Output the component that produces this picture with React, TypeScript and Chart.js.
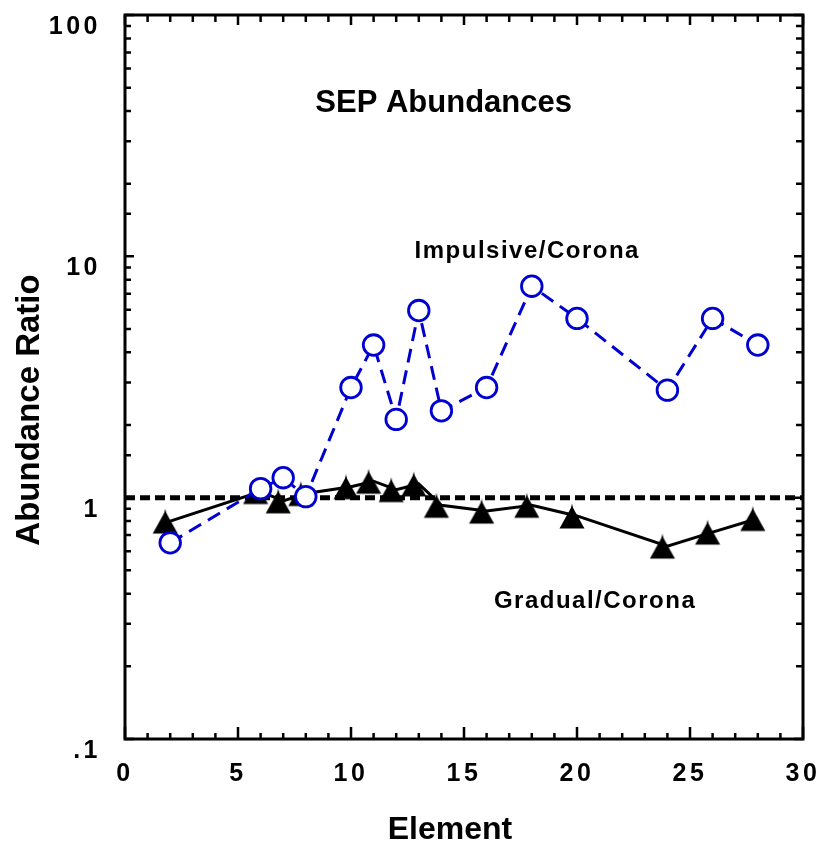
import React, { useEffect, useRef } from 'react';
import { Chart, registerables } from 'chart.js';

Chart.register(...registerables);

// ---- data ----
const impulsiveElement = [2, 6, 7, 8, 10, 11, 12, 13, 14, 16, 18, 20, 24, 26, 28];
const impulsiveRatio = [0.65, 1.09, 1.21, 1.01, 2.86, 4.29, 2.11, 5.96, 2.29, 2.86, 7.52, 5.53, 2.79, 5.53, 4.29];

const gradualElement = [2, 6, 7, 8, 10, 11, 12, 13, 14, 16, 18, 20, 24, 26, 28];
const gradualRatio = [0.8, 1.06, 0.97, 1.04, 1.11, 1.17, 1.08, 1.14, 0.93, 0.88, 0.93, 0.84, 0.63, 0.72, 0.82];

const unityElement = [0, 30];
const unityRatio = [1, 1];

const xMajorValues = [0, 5, 10, 15, 20, 25, 30];
const xMajorLabels = ['0', '5', '10', '15', '20', '25', '30'];
const yDecadeValues = [0.1, 1, 10, 100];
const yDecadeLabels = ['.1', '1', '10', '100'];

const chartTitle = 'SEP Abundances';
const impulsiveLabel = 'Impulsive/Corona';
const gradualLabel = 'Gradual/Corona';
const xTitle = 'Element';
const yTitle = 'Abundance Ratio';

const FONT = '"Liberation Sans", Arial, Helvetica, sans-serif';
const BLUE = '#0000d0';

function xLabel(v: number): string {
  const i = xMajorValues.findIndex((m) => Math.abs(m - v) < 1e-9);
  return i >= 0 ? xMajorLabels[i] : '';
}
function yLabel(v: number): string {
  const i = yDecadeValues.findIndex((d) => Math.abs(d - v) / d < 1e-6);
  return i >= 0 ? yDecadeLabels[i] : '';
}

function makeTriangle(): HTMLCanvasElement {
  const c = document.createElement('canvas');
  c.width = 40;
  c.height = 40;
  const g = c.getContext('2d')!;
  g.fillStyle = '#000';
  g.beginPath();
  g.moveTo(15, 10);
  g.lineTo(27.5, 32.5);
  g.lineTo(2.5, 32.5);
  g.closePath();
  g.fill();
  g.beginPath();
  g.moveTo(13.4, 15);
  g.lineTo(15, 7.5);
  g.lineTo(16.6, 15);
  g.closePath();
  g.fill();
  return c;
}

const framePlugin = {
  id: 'frameAndText',
  beforeDraw(chart: any) {
    chart.ctx.letterSpacing = '3.5px';
  },
  beforeDatasetsDraw(chart: any) {
    chart.ctx.letterSpacing = '0px';
  },
  afterDraw(chart: any) {
    const { ctx, chartArea: a, scales } = chart;
    const xs = scales.x;
    const ys = scales.y;
    ctx.save();
    ctx.letterSpacing = '0px';
    ctx.strokeStyle = '#000';
    ctx.lineWidth = 3;
    ctx.strokeRect(a.left, a.top, a.right - a.left, a.bottom - a.top);
    ctx.lineWidth = 2.5;
    ctx.beginPath();
    xs.ticks.forEach((t: any) => {
      const px = xs.getPixelForValue(t.value);
      const major = xLabel(t.value) !== '';
      const lb = major ? 12 : 6;
      const lt = major ? 10 : 7;
      ctx.moveTo(px, a.bottom);
      ctx.lineTo(px, a.bottom - lb);
      ctx.moveTo(px, a.top);
      ctx.lineTo(px, a.top + lt);
    });
    ys.ticks.forEach((t: any) => {
      const py = ys.getPixelForValue(t.value);
      const major = yLabel(t.value) !== '';
      const len = major ? 9 : 6;
      const lr = major ? 9 : 7;
      ctx.moveTo(a.left, py);
      ctx.lineTo(a.left + len, py);
      ctx.moveTo(a.right, py);
      ctx.lineTo(a.right - lr, py);
    });
    ctx.stroke();

    ctx.fillStyle = '#000';
    ctx.textAlign = 'center';
    ctx.textBaseline = 'middle';

    const put = (text: string, x: number, y: number, size: number, spacing: number, rot = 0) => {
      ctx.save();
      ctx.font = `bold ${size}px ${FONT}`;
      ctx.letterSpacing = `${spacing}px`;
      ctx.translate(x, y);
      if (rot) ctx.rotate(rot);
      ctx.fillText(text, 0, 0);
      ctx.restore();
    };

    put(chartTitle, xs.getPixelForValue(14.1), ys.getPixelForValue(43), 31, 0);
    put(impulsiveLabel, xs.getPixelForValue(17.8), ys.getPixelForValue(10.5), 24, 1.5);
    put(gradualLabel, xs.getPixelForValue(20.8), ys.getPixelForValue(0.372), 24, 1.5);
    put(xTitle, a.left + 325, a.bottom + 91, 32, 0);
    put(yTitle, 30, a.top + 395, 33, 0, -Math.PI / 2);
    ctx.restore();
  },
};

export default function App() {
  const ref = useRef<HTMLCanvasElement>(null);

  useEffect(() => {
    document.body.style.margin = '0';
    const tri = makeTriangle();
    const tickFont = { family: FONT, size: 25, weight: 'bold' as const };
    const chart = new Chart(ref.current!, {
      type: 'scatter',
      data: {
        datasets: [
          {
            label: impulsiveLabel,
            data: impulsiveElement.map((x, i) => ({ x, y: impulsiveRatio[i] })),
            showLine: true,
            borderColor: BLUE,
            borderWidth: 3,
            borderDash: [14, 8],
            pointStyle: 'circle',
            pointRadius: 10.3,
            pointBorderWidth: 2.8,
            pointBorderColor: BLUE,
            pointBackgroundColor: '#ffffff',
          },
          {
            label: gradualLabel,
            data: gradualElement.map((x, i) => ({ x, y: gradualRatio[i] })),
            showLine: true,
            borderColor: '#000',
            borderWidth: 3,
            pointStyle: tri as any,
            pointRadius: 12,
          },
          {
            label: 'unity',
            data: unityElement.map((x, i) => ({ x, y: unityRatio[i] })),
            showLine: true,
            borderColor: '#000',
            borderWidth: 5,
            borderDash: [10, 5],
            pointRadius: 0,
          },
        ],
      },
      options: {
        animation: false,
        responsive: false,
        devicePixelRatio: 1,
        layout: { padding: { top: 13, right: 19, left: 0, bottom: 0 } },
        plugins: { legend: { display: false }, tooltip: { enabled: false } },
        scales: {
          x: {
            type: 'linear',
            position: 'bottom',
            min: 0,
            max: 30,
            grid: { display: false, drawTicks: false },
            border: { display: false },
            ticks: {
              stepSize: 1,
              autoSkip: false,
              maxRotation: 0,
              padding: 20,
              color: '#000',
              font: tickFont,
              callback: (v: any) => xLabel(Number(v)),
            },
            afterFit: (s: any) => {
              s.height = 111;
              s.paddingLeft = 0;
              s.paddingRight = 0;
              s.paddingTop = 0;
              s.paddingBottom = 0;
            },
          },
          y: {
            type: 'logarithmic',
            position: 'left',
            min: 0.1,
            max: 100,
            grid: { display: false, drawTicks: false },
            border: { display: false },
            ticks: {
              autoSkip: false,
              padding: 24,
              labelOffset: 12,
              color: '#000',
              font: tickFont,
              callback: (v: any) => yLabel(Number(v)),
            },
            afterFit: (s: any) => {
              s.width = 125;
              s.paddingLeft = 0;
              s.paddingRight = 0;
              s.paddingTop = 0;
              s.paddingBottom = 0;
            },
          },
        },
      },
      plugins: [framePlugin],
    } as any);
    return () => chart.destroy();
  }, []);

  return (
    <div style={{ width: 822, height: 850 }}>
      <canvas ref={ref} width={822} height={850} style={{ display: 'block' }} />
    </div>
  );
}
